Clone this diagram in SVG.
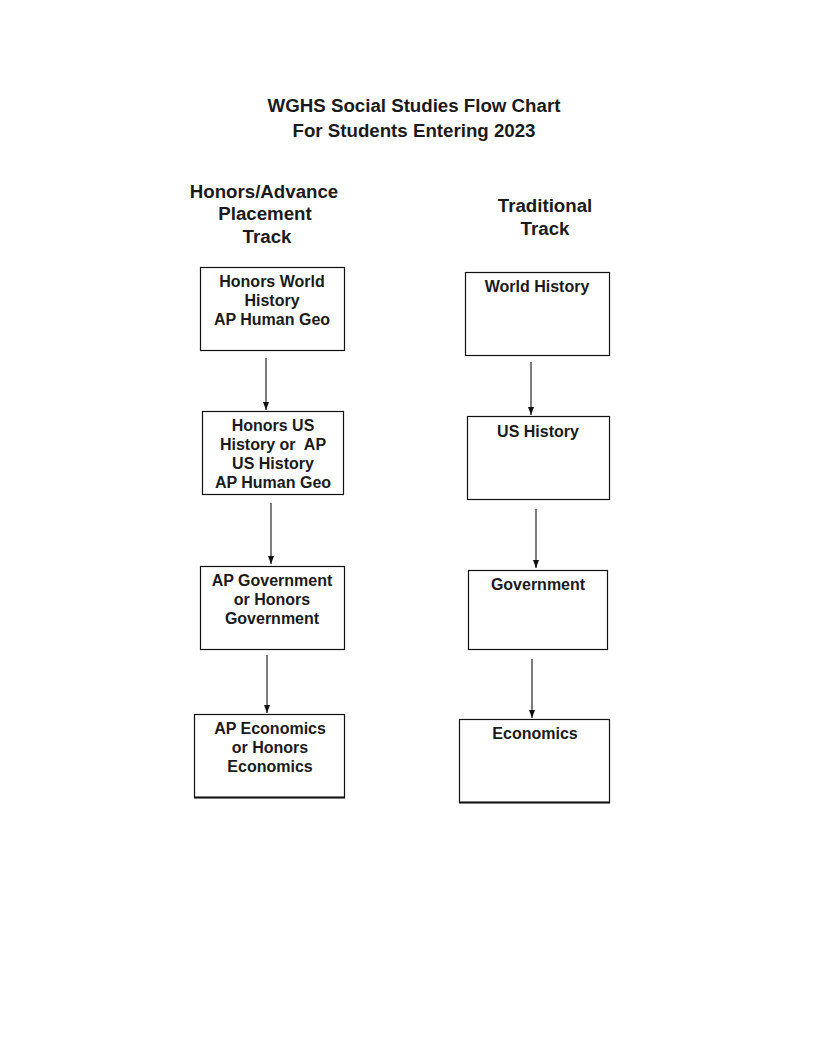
<svg xmlns="http://www.w3.org/2000/svg" width="816" height="1056" viewBox="0 0 816 1056">
<defs>
<marker id="ah" markerWidth="8" markerHeight="6" refX="8" refY="3" orient="auto" markerUnits="userSpaceOnUse" viewBox="0 0 8 6">
<path d="M0,0 L8,3 L0,6 Z" fill="#111"/>
</marker>
<style>
text{font-family:"Liberation Sans",Arial,sans-serif;font-weight:bold;fill:#1a1a1a;text-anchor:middle}
.t{font-size:18.7px}
.n{font-size:16px}
.box{fill:#fff;stroke:#111;stroke-width:1.2}
.c{stroke:#111;stroke-width:1.1;fill:none;marker-end:url(#ah)}
</style>
</defs>
<rect width="816" height="1056" fill="#fff"/>
<g id="title">
<text class="t" x="414" y="112">WGHS Social Studies Flow Chart</text>
<text class="t" x="414" y="137">For Students Entering 2023</text>
</g>
<g id="hdr-honors">
<text class="t" x="264" y="198">Honors/Advance</text>
<text class="t" x="265" y="220">Placement</text>
<text class="t" x="267" y="243">Track</text>
</g>
<g id="hdr-trad">
<text class="t" x="545" y="212">Traditional</text>
<text class="t" x="545" y="235">Track</text>
</g>
<g id="connectors">
<line class="c" x1="266" y1="358" x2="266" y2="410"/>
<line class="c" x1="271" y1="503" x2="271" y2="564"/>
<line class="c" x1="267" y1="655" x2="267" y2="713"/>
<line class="c" x1="531" y1="362" x2="531" y2="415"/>
<line class="c" x1="536" y1="509" x2="536" y2="568"/>
<line class="c" x1="532" y1="659" x2="532" y2="718"/>
</g>
<g id="h1">
<rect class="box" x="200.5" y="267.5" width="144" height="83"/>
<text class="n" x="272" y="287">Honors World</text>
<text class="n" x="272" y="306">History</text>
<text class="n" x="272" y="325">AP Human Geo</text>
</g>
<g id="h2">
<rect class="box" x="202.5" y="411.5" width="141" height="83"/>
<text class="n" x="273" y="431">Honors US</text>
<text class="n" x="273" y="450">History or&#160; AP</text>
<text class="n" x="273" y="469">US History</text>
<text class="n" x="273" y="488">AP Human Geo</text>
</g>
<g id="h3">
<rect class="box" x="200.5" y="566.5" width="144" height="83"/>
<text class="n" x="272" y="586">AP Government</text>
<text class="n" x="272" y="605">or Honors</text>
<text class="n" x="272" y="624">Government</text>
</g>
<g id="h4">
<rect class="box" x="194.5" y="714.5" width="150" height="83"/>
<line x1="194" y1="797.5" x2="345" y2="797.5" stroke="#111" stroke-width="2"/>
<text class="n" x="270" y="734">AP Economics</text>
<text class="n" x="270" y="753">or Honors</text>
<text class="n" x="270" y="772">Economics</text>
</g>
<g id="t1">
<rect class="box" x="465.5" y="272.5" width="144" height="83"/>
<text class="n" x="537" y="292">World History</text>
</g>
<g id="t2">
<rect class="box" x="467.5" y="416.5" width="142" height="83"/>
<text class="n" x="538" y="437">US History</text>
</g>
<g id="t3">
<rect class="box" x="468.5" y="570.5" width="139" height="79"/>
<text class="n" x="538" y="590">Government</text>
</g>
<g id="t4">
<rect class="box" x="459.5" y="719.5" width="150" height="83"/>
<line x1="459" y1="802.5" x2="610" y2="802.5" stroke="#111" stroke-width="2"/>
<text class="n" x="535" y="739">Economics</text>
</g>
</svg>
